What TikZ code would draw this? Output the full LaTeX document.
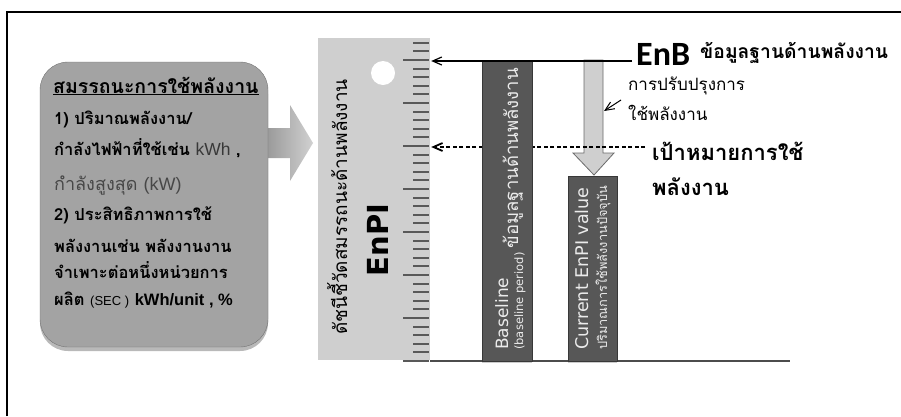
\documentclass[tikz,border=0pt]{standalone}
\usepackage{fontspec}
\setmainfont{Loma}[Script=Thai]
\newfontfamily\latinsf{Liberation Sans}
\newfontfamily\dejavusf{DejaVu Sans}
\newfontfamily\carlitosf{Carlito}
\usetikzlibrary{arrows.meta,positioning,shadows}

\begin{document}
\begin{tikzpicture}[
    x=1pt, y=-1pt,
    every node/.style={inner sep=0pt},
    compbox/.style={draw=black!55, fill=black!36, rounded corners=28pt, minimum width=228pt, minimum height=285pt,
        drop shadow={shadow xshift=0pt, shadow yshift=-4pt, opacity=0.55}},
    boxline/.style={anchor=base west, font=\bfseries\fontsize{16.5}{17}\selectfont},
    boxplain/.style={anchor=base west, text=black!72, font=\fontsize{18}{18}\selectfont},
    rulerbox/.style={fill=black!19, minimum width=112pt, minimum height=322pt},
    tick/.style={draw=black!65, line width=2pt},
    bar/.style={fill=black!66, draw=black!78, drop shadow={shadow xshift=0pt, shadow yshift=-2pt, opacity=0.4}},
    bartext/.style={rotate=90, text=black!8},
    hollowarrow/.style={fill=black!19, draw=black!58, line width=0.8pt},
    pointer/.style={-{Straight Barb[length=3.2mm, width=2.8mm]}, line width=1.2pt},
    target/.style={pointer, dash pattern=on 4pt off 2.5pt, line width=1.8pt},
    sidelabel/.style={anchor=base west, font=\bfseries\fontsize{21}{21}\selectfont}
]
\useasboundingbox (0,0) rectangle (901,416);
\draw[line width=1.8pt] (7,416) -- (7,12) -- (901,12);

% competence box with its pointer
\shade[left color=black!42, right color=black!18] (262,128) -- (290,128) -- (290,105) -- (313,143) -- (290,181) -- (290,158) -- (262,158) -- cycle;
\node[compbox] (comp) at (154,204.5) {};
\node[anchor=base west, font=\bfseries\fontsize{19.5}{20}\selectfont] (comptitle) at (53,93) {\underline{สมรรถนะการใช้พลังงาน}};
\node[boxline] (l1) at (54,124) {1) ปริมาณพลังงาน/};
\node[boxline] (l2) at (54,155) {กำลังไฟฟ้าที่ใช้เช่น {\latinsf\mdseries\color{black!78}\fontsize{17.5}{18}\selectfont kWh} ,};
\node[boxplain] (l3) at (54,190) {กำลังสูงสุด {\latinsf(kW)}};
\node[boxline] (l4) at (54,220) {2) ประสิทธิภาพการใช้};
\node[boxline] (l5) at (54,252) {พลังงานเช่น พลังงานงาน};
\node[boxline] (l6) at (54,278) {จำเพาะต่อหนึ่งหน่วยการ};
\node[boxline] (l7) at (54,305) {ผลิต {\latinsf\mdseries\fontsize{13}{13}\selectfont(SEC )} {\latinsf kWh/unit , \%}};

% EnPI ruler
\node[rulerbox] (ruler) at (374,199) {};
\foreach \i in {0,...,37}{
  \pgfmathsetmacro\ty{60+(\i-2)*8.6}
  \pgfmathtruncatemacro\islong{mod(\i+3,5)==0}
  \ifnum\islong=1
    \draw[tick] (403,\ty) -- (429,\ty);
  \else
    \draw[tick] (413,\ty) -- (429,\ty);
  \fi
}
\fill[white] (383,73) circle (12);
\node[rotate=90, anchor=base, font=\fontsize{19}{19}\selectfont] (rulerthai) at (347,207) {ดัชนีชี้วัดสมรรถนะด้านพลังงาน};
\node[rotate=90, anchor=base, font=\dejavusf\bfseries\fontsize{29}{29}\selectfont] (enpi) at (388,240) {EnPI};

% reference lines
\coordinate (enbend) at (632,61);
\coordinate (tgtend) at (645,147);
\coordinate (floor) at (790,361);
\draw[black!70, line width=1.4pt] (floor -| ruler.east) -- (floor);
\draw[hollowarrow] (584,60) -- (603,60) -- (603,153) -- (614,153) -- (594,175) -- (573,153) -- (584,153) -- cycle;
\draw[target] (tgtend) -- ([xshift=1pt]tgtend -| ruler.east);

% bars
\node[bar, minimum width=50pt, minimum height=301pt] (baseline) at (507,210.5) {};
\node[bar, minimum width=49pt, minimum height=185pt] (current) at (592.5,268.5) {};
\node[bartext, anchor=base east, font=\fontsize{18.5}{19}\selectfont] (basethai) at (518,68) {ข้อมูลฐานด้านพลังงาน};
\node[bartext, anchor=base west, font=\dejavusf\fontsize{17}{17}\selectfont] (basetitle) at (508,350) {Baseline};
\node[bartext, anchor=base west, font=\dejavusf\fontsize{11.5}{12}\selectfont] (basesub) at (523,350) {(baseline period)};
\node[bartext, anchor=base west, font=\dejavusf\fontsize{17.5}{18}\selectfont] (curtitle) at (588,350) {Current EnPI value};
\node[bartext, anchor=base west, font=\fontsize{12.8}{13}\selectfont] (curthai) at (607,350) {ปริมาณการใช้พลังงานปัจจุบัน};

\draw[pointer] (enbend) -- ([xshift=1pt]enbend -| ruler.east);

% labels on the right
\node[anchor=base west, font=\carlitosf\bfseries\fontsize{34}{34}\selectfont] (enb) at (636,65) {EnB};
\node[sidelabel, font=\bfseries\fontsize{19.3}{20}\selectfont] (enbthai) at (700,58) {ข้อมูลฐานด้านพลังงาน};
\node[anchor=base west, font=\fontsize{17}{17}\selectfont] (improve1) at (628,90) {การปรับปรุงการ};
\node[anchor=base west, font=\fontsize{17}{17}\selectfont] (improve2) at (628,120) {ใช้พลังงาน};
\coordinate (improvept) at (621,100);
\draw[pointer, line width=1pt] (improvept) -- (604,111);
\node[sidelabel, font=\bfseries\fontsize{22}{22}\selectfont] (target1) at (652,160) {เป้าหมายการใช้};
\node[sidelabel, font=\bfseries\fontsize{22}{22}\selectfont] (target2) at (652,195) {พลังงาน};
\end{tikzpicture}
\end{document}
